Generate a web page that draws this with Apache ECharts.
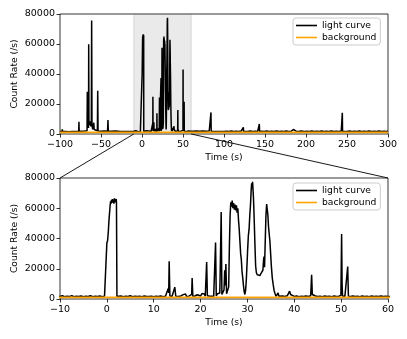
<!DOCTYPE html>
<html>
<head>
<meta charset="utf-8">
<script src="https://cdn.jsdelivr.net/npm/echarts@6/dist/echarts.min.js"></script>
<style>
  html, body { margin: 0; padding: 0; background: #fff; }
  #chart { width: 407px; height: 339px; }
</style>
</head>
<body>
<div id="chart"></div>
<script>
// light curve, before the zoomed window (s, counts/s)
const preTime = [-100, -98.5, -97.5, -97.2, -96.9, -95, -93, -91, -89, -87, -85, -83, -81, -79, -77.2, -76.9, -76.6,
  -74, -72, -70, -68, -67, -66.7, -66.4, -65.8, -65.2, -65, -64.7, -64.2, -63.6, -63, -62.4, -61.8, -61.4, -61,
  -60.2, -59.6, -58.8, -58.3, -57.5, -56, -54.4, -54, -53.6, -52, -50, -48, -46, -44, -42, -41.5, -41.1, -39, -37,
  -35, -33, -31, -29, -27.2, -26.8, -26.4, -24, -22, -20, -18, -16, -14, -12, -10.5];
const preRate = [1700, 1900, 1600, 3100, 1700, 2000, 1600, 1900, 1500, 2000, 1600, 1900, 1700, 1800, 1900, 8200, 1700,
  1900, 1600, 2000, 1700, 2200, 28200, 6500, 8000, 4000, 59800, 8000, 9000, 6000, 8500, 5000, 9000, 75600, 6000,
  3000, 5000, 7500, 3000, 2000, 1800, 2200, 28900, 2000, 1700, 1900, 1600, 2000, 1700, 1900, 9300, 1800, 1700, 1900,
  1600, 2000, 1700, 1900, 1800, 2700, 1700, 1900, 1600, 2000, 1700, 1900, 1600, 2000, 1700];

// light curve, zoomed window -10 .. 60 s
const burstTime = [-10, -9.5, -9, -8.5, -8, -7.5, -7, -6.5, -6, -5.5, -5, -4.5, -4, -3.5, -3, -2.5, -2, -1.5, -1, -0.5, -0.1,
  0, 0.15, 0.3, 0.45, 0.6, 0.7, 0.8, 0.9, 1.0, 1.1, 1.2, 1.3, 1.4, 1.5, 1.6, 1.7, 1.8, 1.9, 2.0, 2.05, 2.15,
  2.5, 3, 3.5, 4, 4.5, 5, 5.5, 6, 6.5, 7, 7.5, 8, 8.5, 9, 9.5, 10, 10.5, 11, 11.5, 12, 12.5, 12.9, 13.1, 13.2, 13.3,
  13.45, 13.9, 14.3, 14.5, 14.7, 15.2, 15.8, 16.3, 16.5, 16.8, 17.0, 17.5, 17.9, 18.1, 18.2, 18.35, 18.8, 19.1, 19.3,
  19.5, 20.0, 20.3, 20.5, 20.8, 21.0, 21.2, 21.3, 21.45, 21.7, 22.0, 22.4, 22.8, 23.05, 23.2, 23.35, 23.6, 23.9, 24.1,
  24.2, 24.4, 24.55, 24.8, 25.0, 25.15, 25.25, 25.4, 25.55, 25.8, 26.0, 26.15, 26.3, 26.45, 26.6, 26.75, 26.9, 27.05,
  27.2, 27.35, 27.5, 27.65, 27.8, 27.95, 28.1, 28.25, 28.4, 28.55, 28.7, 28.85, 29.0, 29.15, 29.3, 29.45, 29.6, 29.75,
  29.9, 30.05, 30.2, 30.35, 30.5, 30.65, 30.8, 30.9, 31.0, 31.1, 31.2, 31.3, 31.45, 31.6, 31.75, 31.9, 32.1, 32.3,
  32.5, 32.7, 32.9, 33.1, 33.3, 33.45, 33.55, 33.65, 33.8, 33.95, 34.1, 34.2, 34.35, 34.5, 34.65, 34.8, 34.95, 35.1,
  35.3, 35.5, 35.7, 35.9, 36.1, 36.4, 36.55, 36.7, 37.0, 37.5, 38.0, 38.5, 38.8, 39.0, 39.2, 39.4, 40.0, 40.5, 41.0,
  41.5, 42.0, 42.5, 43.0, 43.5, 43.7, 43.85, 44.0, 44.5, 45.0, 45.5, 46, 46.5, 47, 47.5, 48, 48.5, 49, 49.5, 49.95,
  50.1, 50.2, 50.3, 50.8, 51.2, 51.4, 51.55, 52, 52.5, 53, 53.5, 54, 54.5, 55, 55.5, 56, 56.5, 57, 57.5, 58, 58.5,
  59, 59.5, 60];
const burstRate = [1700, 2100, 1500, 1900, 1600, 2200, 1500, 1800, 1600, 2000, 1500, 1900, 1700, 2200, 1500, 1800, 1600, 2000, 1500, 1900, 1600,
  37000, 38500, 44000, 52000, 58000, 62000, 64500, 63000, 65500, 63500, 66000, 64000, 65500, 63000, 66500, 64000, 65000, 63500, 66000, 64000, 1700,
  1600, 2000, 1500, 1800, 1600, 2100, 1500, 1900, 1600, 1800, 1500, 2000, 1700, 1600, 1900, 1500, 1800, 1600, 2000, 1500, 1800, 2600, 7000, 4000, 24900,
  2000, 1700, 2200, 7800, 1900, 1600, 2000, 2900, 1700, 3300, 1600, 1900, 1600, 3000, 13900, 1800, 2000, 3000, 2800,
  1700, 2000, 3600, 2400, 3300, 1800, 2500, 24400, 2200, 3000, 1800, 2500, 1900, 2600, 37400, 2000, 3500, 2200, 4000,
  20000, 57500, 3000, 2200, 6000, 19000, 9000, 23100, 3500, 2500, 8000, 35000, 55000, 64000, 61000, 65000, 60000, 63500,
  59000, 62500, 58500, 62000, 57000, 60000, 52000, 46000, 38000, 30000, 26000, 18000, 14000, 9000, 5000, 3000, 5500, 12000,
  22000, 33000, 42000, 46000, 55000, 62000, 72000, 76500, 73000, 77500, 72000, 66000, 52000, 36000, 22000, 17500, 16000, 15000,
  16500, 15500, 17000, 16500, 19000, 26000, 28000, 21000, 38000, 55000, 62800, 60000, 56000, 48000, 43000, 38000, 30000, 22000,
  14000, 9500, 5500, 3500, 1800, 2500, 4000, 1900, 1600, 2000, 1600, 2100, 3000, 5200, 3000, 1900, 1700, 2000, 1500,
  1900, 1600, 2000, 1700, 2200, 16000, 3000, 1800, 2000, 1600, 1900, 1500, 2000, 1700, 1900, 1500, 2000, 1700, 1800, 2400,
  43000, 10000, 2000, 1700, 2300, 21500, 1900, 1600, 2000, 1700, 1900, 1500, 2000, 1700, 1800, 1500, 2000, 1700, 1900, 1600, 2000,
  1700, 1800, 1600];

// light curve, after the zoomed window
const postTime = [62, 64, 66, 68, 70, 72, 74, 76, 78, 80, 82, 83.8, 84.1, 84.4, 86, 88, 90, 92, 94, 96, 98, 100, 103, 106,
  109, 112, 115, 118, 121, 123.3, 123.6, 123.9, 126, 129, 132, 135, 138, 141, 142.8, 143.1, 143.4, 146, 149, 152, 155,
  158, 161, 164, 167, 170, 173, 176, 179, 182, 184.3, 184.6, 185, 188, 191, 194, 196, 198, 201, 204, 207, 210, 213,
  216, 219, 222, 225, 228, 231, 234, 237, 240, 243, 244, 244.3, 244.6, 247, 250, 253, 256, 259, 262, 265, 268, 271,
  274, 277, 280, 283, 286, 289, 292, 295, 298, 300];
const postRate = [1900, 1600, 2000, 1700, 1900, 1600, 2000, 1700, 1900, 1600, 2000, 1800, 14400, 1700, 1900, 1600, 2000, 1700, 1900, 1600, 2000, 1700, 1900, 1600,
  2000, 1700, 1900, 1600, 2000, 1800, 4400, 1700, 1900, 1600, 2000, 1700, 1900, 1600, 2100, 6700, 1700, 1900, 1600, 2000, 1700,
  1900, 1600, 2000, 1700, 1900, 1600, 2000, 1700, 1900, 2000, 3000, 1700, 1900, 1600, 2000, 2600, 1700, 1900, 1600, 2000, 1700, 1900,
  1600, 2000, 1700, 1900, 1600, 2000, 1700, 1900, 1600, 2000, 1800, 14200, 1700, 1900, 1600, 2000, 1700, 1900, 1600, 2000, 1700, 1900,
  1600, 2000, 1700, 1900, 1600, 2000, 1700, 1900, 1600, 1800];

// background level
const bgTime = [-100, 300];
const bgRate = [1100, 1100];

// zoomed window
const zoomRange = [-10, 60];

const topTicks = { min: -100, max: 300, interval: 50 };
const bottomTicks = { min: zoomRange[0], max: zoomRange[1], interval: 10 };
const rateTicks = { min: 0, max: 80000, interval: 20000 };

const FONT = "DejaVu Sans";

const pairs = (t, r) => t.map((v, i) => [v, r[i]]);
const lcData = pairs(preTime, preRate).concat(pairs(burstTime, burstRate), pairs(postTime, postRate));
const bgData = pairs(bgTime, bgRate);

const minus = (v) => String(v).replace("-", "\u2212");

function xAxisOf(idx, ticks) {
  return {
    type: "value",
    gridIndex: idx,
    min: ticks.min,
    max: ticks.max,
    interval: ticks.interval,
    name: "Time (s)",
    nameLocation: "middle",
    nameGap: 19,
    nameMoveOverlap: false,
    nameTextStyle: { color: "#000", fontFamily: FONT, fontSize: 9.2 },
    axisLine: { show: false, onZero: false },
    axisTick: { show: true, inside: false, length: 3.5, lineStyle: { color: "#000", width: 0.8 } },
    axisLabel: { color: "#000", fontFamily: FONT, fontSize: 9.5, margin: 6, formatter: minus },
    splitLine: { show: false },
  };
}

function yAxisOf(idx) {
  return {
    type: "value",
    gridIndex: idx,
    min: rateTicks.min,
    max: rateTicks.max,
    interval: rateTicks.interval,
    name: "Count Rate (/s)",
    nameLocation: "middle",
    nameRotate: 90,
    nameGap: 41,
    nameMoveOverlap: false,
    nameTextStyle: { color: "#000", fontFamily: FONT, fontSize: 9.2 },
    axisLine: { show: false, onZero: false },
    axisTick: { show: true, inside: false, length: 3.5, lineStyle: { color: "#000", width: 0.8 } },
    axisLabel: { color: "#000", fontFamily: FONT, fontSize: 9.5, margin: 5, formatter: (v) => String(v) },
    splitLine: { show: false },
  };
}

function legendOf(top) {
  return {
    orient: "vertical",
    left: 293,
    top: top,
    backgroundColor: "#fff",
    borderColor: "#cccccc",
    borderWidth: 1,
    borderRadius: 3,
    padding: [3, 4, 3, 3],
    itemGap: 3,
    itemWidth: 21,
    itemHeight: 1.6,
    textStyle: { color: "#000", fontFamily: FONT, fontSize: 9.2 },
    data: [
      { name: "light curve", icon: "rect" },
      { name: "background", icon: "rect" },
    ],
  };
}

function lcSeries(idx, withBand) {
  const s = {
    name: "light curve",
    type: "line",
    xAxisIndex: idx,
    yAxisIndex: idx,
    data: lcData,
    showSymbol: false,
    symbol: "none",
    color: "#000",
    lineStyle: { color: "#000", width: 1.5 },
    animation: false,
    z: 2,
  };
  if (withBand) {
    s.markArea = {
      silent: true,
      itemStyle: { color: "rgba(128,128,128,0.17)", borderColor: "rgba(128,128,128,0.3)", borderWidth: 0.8 },
      data: [[{ xAxis: zoomRange[0] }, { xAxis: zoomRange[1] }]],
    };
  }
  return s;
}

function bgSeries(idx) {
  return {
    name: "background",
    type: "line",
    xAxisIndex: idx,
    yAxisIndex: idx,
    data: bgData,
    showSymbol: false,
    symbol: "none",
    color: "#ffa500",
    lineStyle: { color: "#ffa500", width: 1.8 },
    animation: false,
    z: 3,
  };
}

const myChart = echarts.init(document.getElementById("chart"), null, { renderer: "canvas" });
const option = {
  backgroundColor: "#fff",
  animation: false,
  grid: [
    { left: 60, right: 19, top: 14, height: 120, show: true, borderColor: "#000", borderWidth: 0.8, outerBoundsMode: "none", containLabel: false },
    { left: 60, right: 19, top: 178, height: 121, show: true, borderColor: "#000", borderWidth: 0.8, outerBoundsMode: "none", containLabel: false },
  ],
  xAxis: [xAxisOf(0, topTicks), xAxisOf(1, bottomTicks)],
  yAxis: [yAxisOf(0), yAxisOf(1)],
  legend: [legendOf(18), legendOf(183)],
  series: [lcSeries(0, true), bgSeries(0), lcSeries(1, false), bgSeries(1)],
};
myChart.setOption(option);

// lines joining the shaded window to the zoomed panel
const a1 = myChart.convertToPixel({ xAxisIndex: 0, yAxisIndex: 0 }, [zoomRange[0], rateTicks.min]);
const b1 = myChart.convertToPixel({ xAxisIndex: 1, yAxisIndex: 1 }, [zoomRange[0], rateTicks.max]);
const a2 = myChart.convertToPixel({ xAxisIndex: 0, yAxisIndex: 0 }, [zoomRange[1], rateTicks.min]);
const b2 = myChart.convertToPixel({ xAxisIndex: 1, yAxisIndex: 1 }, [zoomRange[1], rateTicks.max]);
myChart.setOption({
  graphic: [
    { type: "line", shape: { x1: a1[0], y1: a1[1], x2: b1[0], y2: b1[1] }, style: { stroke: "#000", lineWidth: 0.9 }, z: 10 },
    { type: "line", shape: { x1: a2[0], y1: a2[1], x2: b2[0], y2: b2[1] }, style: { stroke: "#000", lineWidth: 0.9 }, z: 10 },
  ],
});
</script>
</body>
</html>
